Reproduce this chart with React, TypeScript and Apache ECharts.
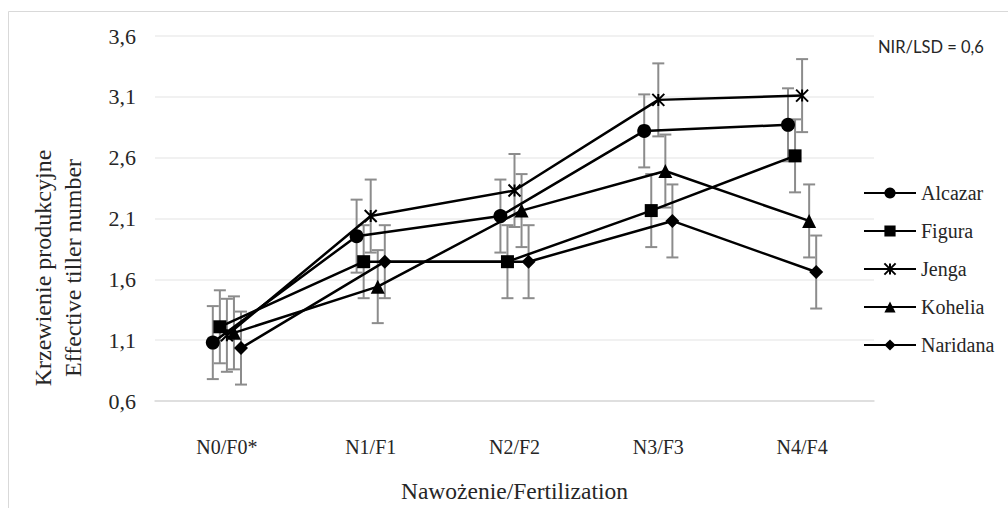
import React, { useEffect, useRef } from "react";
import * as echarts from "echarts";

const categories = ["N0/F0*", "N1/F1", "N2/F2", "N3/F3", "N4/F4"];
const seriesNames = ["Alcazar", "Figura", "Jenga", "Kohelia", "Naridana"];
const alcazar = [1.08, 1.955, 2.12, 2.82, 2.87];
const figura = [1.21, 1.745, 1.745, 2.165, 2.615];
const jenga = [1.14, 2.12, 2.33, 3.075, 3.11];
const kohelia = [1.16, 1.54, 2.165, 2.49, 2.08];
const naridana = [1.035, 1.745, 1.745, 2.08, 1.66];
const errors = [0.3, 0.3, 0.3, 0.3, 0.3];
const yTicks = { min: 0.6, max: 3.6, interval: 0.5 };
const lsdText = "NIR/LSD = 0,6";

const STAR = "path://M0,0 L10,10 M10,0 L0,10 M5,0 L5,10";
const symbols = ["circle", "rect", STAR, "triangle", "diamond"];
const symbolSizes = [14, 13, 12, 14, 14];

export default function App() {
  const ref = useRef<HTMLDivElement>(null);
  useEffect(() => {
    if (!ref.current) return;
    const chart = echarts.init(ref.current, null, { renderer: "svg" });
    const values = [alcazar, figura, jenga, kohelia, naridana];
    const font = "'Liberation Serif', 'Times New Roman', serif";
    const offsetStep = 0.049;

    const errSeries: any[] = values.map((vals, s) => ({
      type: "custom",
      name: "err-" + seriesNames[s],
      xAxisIndex: 1,
      yAxisIndex: 0,
      z: 1,
      data: vals.map((v, i) => [i + (s - 2) * offsetStep, v, errors[i]]),
      renderItem: (params: any, api: any) => {
        const x = api.value(0);
        const v = api.value(1);
        const e = api.value(2);
        const top = api.coord([x, v + e]);
        const bot = api.coord([x, v - e]);
        const cap = 6;
        const st = { stroke: "#8c8c8c", lineWidth: 2 };
        return {
          type: "group",
          children: [
            { type: "line", shape: { x1: top[0], y1: top[1], x2: bot[0], y2: bot[1] }, style: st },
            { type: "line", shape: { x1: top[0] - cap, y1: top[1], x2: top[0] + cap, y2: top[1] }, style: st },
            { type: "line", shape: { x1: bot[0] - cap, y1: bot[1], x2: bot[0] + cap, y2: bot[1] }, style: st },
          ],
        };
      },
    }));

    const lineSeries: any[] = values.map((vals, s) => ({
      type: "line",
      name: seriesNames[s],
      xAxisIndex: 1,
      yAxisIndex: 0,
      z: 3,
      data: vals.map((v, i) => [i + (s - 2) * offsetStep, v]),
      symbol: symbols[s],
      symbolSize: symbolSizes[s],
      showAllSymbol: true,
      lineStyle: { color: "#000", width: 2.5 },
      itemStyle:
        s === 2
          ? { color: "none", borderColor: "#000", borderWidth: 2 }
          : { color: "#000", borderColor: "#000", borderWidth: 0 },
    }));

    chart.setOption({
      animation: false,
      backgroundColor: "#fff",
      grid: { left: 155, right: 134, top: 36, bottom: 100, containLabel: false },
      legend: {
        orient: "vertical",
        left: 858,
        top: 178,
        itemWidth: 52,
        itemHeight: 14,
        itemGap: 18,
        itemTextGap: 4,
        data: seriesNames,
        textStyle: { fontFamily: font, fontSize: 20, color: "#262626", lineHeight: 20 },
      },
      xAxis: [
        {
          type: "category",
          data: categories,
          boundaryGap: true,
          axisLine: { show: true, lineStyle: { color: "#d9d9d9", width: 1.5 } },
          axisTick: { show: false },
          axisLabel: { fontFamily: font, fontSize: 20, color: "#262626", margin: 36 },
          name: "Nawożenie/Fertilization",
          nameLocation: "middle",
          nameGap: 78,
          nameTextStyle: { fontFamily: font, fontSize: 23.5, color: "#262626" },
        },
        {
          type: "value",
          min: -0.5,
          max: 4.5,
          show: false,
          splitLine: { show: false },
        },
      ],
      yAxis: {
        type: "value",
        min: yTicks.min,
        max: yTicks.max,
        interval: yTicks.interval,
        axisLine: { show: false },
        axisTick: { show: false },
        splitLine: { lineStyle: { color: "#ececec", width: 1.5 } },
        axisLabel: {
          fontFamily: font,
          fontSize: 22,
          color: "#262626",
          margin: 19,
          formatter: (v: number) => v.toFixed(1).replace(".", ","),
        },
      },
      graphic: [
        {
          type: "rect",
          shape: { x: 8.5, y: 11.5, width: 1200, height: 1000 },
          style: { fill: "none", stroke: "#d9d9d9", lineWidth: 1 },
          silent: true,
        },
        {
          type: "text",
          x: 58,
          y: 268,
          rotation: Math.PI / 2,
          style: {
            text: "Krzewienie produkcyjne\nEffective tiller number",
            fontFamily: font,
            fontSize: 24,
            lineHeight: 30,
            fill: "#262626",
            align: "center",
            verticalAlign: "middle",
          },
        },
        {
          type: "text",
          x: 878,
          y: 47,
          style: {
            text: lsdText,
            fontFamily: "Lato, 'Open Sans', sans-serif",
            fontSize: 16.5,
            fill: "#262626",
            align: "left",
            verticalAlign: "middle",
          },
        },
      ],
      series: [...errSeries, ...lineSeries],
    });
    return () => chart.dispose();
  }, []);
  return (
    <div
      ref={ref}
      style={{ position: "fixed", left: 0, top: 0, width: 1008, height: 508 }}
    />
  );
}
